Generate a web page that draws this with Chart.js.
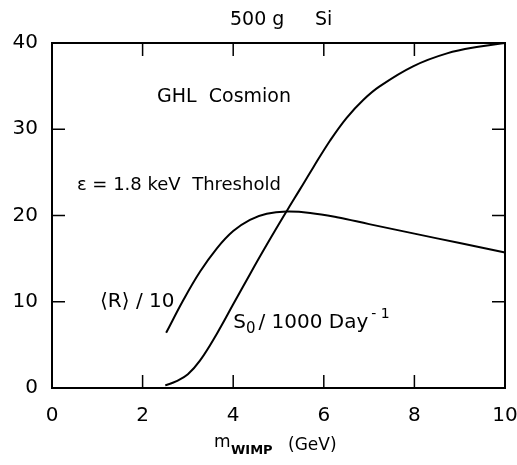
<!DOCTYPE html>
<html>
<head>
<meta charset="utf-8">
<script src="https://cdn.jsdelivr.net/npm/chart.js@4.4.1/dist/chart.umd.min.js"></script>
<style>
  html, body { margin: 0; padding: 0; background: #fff; }
</style>
</head>
<body>
<canvas id="myChart" width="517" height="465"></canvas>
<script>
// <R>/10 curve
const massR = [2.52, 2.9, 3.27, 3.64, 4.0, 4.37, 4.74, 5.18, 5.7, 6.29, 7.0, 8.0, 9.0, 10.0];
const rateR = [6.4, 10.2, 13.5, 16.2, 18.2, 19.5, 20.2, 20.45, 20.3, 19.8, 19.0, 17.9, 16.8, 15.7];
// S0/1000 curve
const massS = [2.5, 2.75, 3.0, 3.27, 3.64, 4.0, 4.37, 4.74, 5.18, 5.47, 5.77, 6.14, 6.5, 6.87, 7.24, 7.97, 8.72, 9.45, 10.0];
const rateS = [0.3, 0.8, 1.6, 3.2, 6.3, 9.7, 13.2, 16.6, 20.5, 23.0, 25.6, 28.7, 31.3, 33.4, 35.0, 37.3, 38.8, 39.6, 40.0];
const xTicks = [0, 2, 4, 6, 8, 10];
const yTicks = [0, 10, 20, 30, 40];

const FONT = "'DejaVu Sans', sans-serif";

function pts(xs, ys) {
  return xs.map((x, i) => ({ x: x, y: ys[i] }));
}

// frame, inward ticks, title and the text notes
const decor = {
  id: "decor",
  afterDraw(chart) {
    const ctx = chart.ctx;
    const a = chart.chartArea;
    const sx = chart.scales.x;
    const sy = chart.scales.y;
    const tl = 13;
    ctx.save();
    ctx.strokeStyle = "#000";
    ctx.lineWidth = 2;
    ctx.strokeRect(a.left, a.top, a.right - a.left, a.bottom - a.top);
    ctx.lineWidth = 1.5;
    ctx.beginPath();
    xTicks.slice(1, -1).forEach((v) => {
      const px = sx.getPixelForValue(v);
      ctx.moveTo(px, a.bottom); ctx.lineTo(px, a.bottom - tl);
      ctx.moveTo(px, a.top); ctx.lineTo(px, a.top + tl);
    });
    yTicks.slice(1, -1).forEach((v) => {
      const py = sy.getPixelForValue(v);
      ctx.moveTo(a.left, py); ctx.lineTo(a.left + tl, py);
      ctx.moveTo(a.right, py); ctx.lineTo(a.right - tl, py);
    });
    ctx.stroke();

    ctx.fillStyle = "#000";
    ctx.textBaseline = "alphabetic";
    ctx.textAlign = "left";

    // title
    ctx.font = "19px " + FONT;
    ctx.fillText("500 g", 230, 25);
    ctx.fillText("Si", 315, 25);

    // notes placed in data units
    const at = (x, y) => [sx.getPixelForValue(x), sy.getPixelForValue(y)];
    let p = at(2.32, 33.2);
    ctx.font = "19px " + FONT;
    ctx.fillText("GHL  Cosmion", p[0], p[1]);

    p = at(0.55, 23.0);
    ctx.font = "18px " + FONT;
    ctx.fillText("\u03b5 = 1.8 keV  Threshold", p[0], p[1]);

    p = at(1.06, 9.4);
    ctx.font = "20px " + FONT;
    ctx.fillText("\u27e8R\u27e9 / 10", p[0], p[1]);

    p = at(4.0, 7.0);
    let x = p[0];
    ctx.font = "20px " + FONT;
    ctx.fillText("S", x, p[1]);
    x += ctx.measureText("S").width;
    ctx.font = "15px " + FONT;
    ctx.fillText("0", x, p[1] + 5);
    x += ctx.measureText("0").width + 3;
    ctx.font = "20px " + FONT;
    ctx.fillText("/ 1000 Day", x, p[1]);
    x += ctx.measureText("/ 1000 Day").width + 3;
    ctx.font = "14px " + FONT;
    ctx.fillText("- 1", x, p[1] - 10);

    // x axis title
    ctx.font = "17px " + FONT;
    ctx.fillText("m", 214, 447);
    ctx.font = "bold 13px " + FONT;
    ctx.fillText("WIMP", 231, 454);
    ctx.font = "17px " + FONT;
    ctx.fillText("(GeV)", 288, 450);
    ctx.restore();
  },
};

const ctx = document.getElementById("myChart").getContext("2d");
const myChart = new Chart(ctx, {
  type: "line",
  data: {
    datasets: [
      { label: "<R>/10", data: pts(massR, rateR) },
      { label: "S0/1000", data: pts(massS, rateS) },
    ],
  },
  options: {
    responsive: false,
    animation: false,
    devicePixelRatio: 1,
    clip: false,
    borderColor: "#000",
    borderWidth: 2,
    pointRadius: 0,
    tension: 0.4,
    layout: { padding: { top: 43, right: 12, left: 0, bottom: 0 }, autoPadding: false },
    plugins: { legend: { display: false }, tooltip: { enabled: false } },
    scales: {
      x: {
        type: "linear",
        min: 0,
        max: 10,
        grid: { display: false },
        border: { display: false },
        afterFit: (s) => { s.height = 77; s.paddingLeft = 0; s.paddingRight = 0; },
        afterBuildTicks: (s) => { s.ticks = xTicks.map((v) => ({ value: v })); },
        ticks: { padding: 8, color: "#000", font: { family: FONT, size: 20 } },
      },
      y: {
        min: 0,
        max: 40,
        grid: { display: false },
        border: { display: false },
        afterFit: (s) => { s.width = 52; s.paddingTop = 0; s.paddingBottom = 0; },
        afterBuildTicks: (s) => { s.ticks = yTicks.map((v) => ({ value: v })); },
        ticks: { padding: 6, color: "#000", font: { family: FONT, size: 20 } },
      },
    },
  },
  plugins: [decor],
});
</script>
</body>
</html>
